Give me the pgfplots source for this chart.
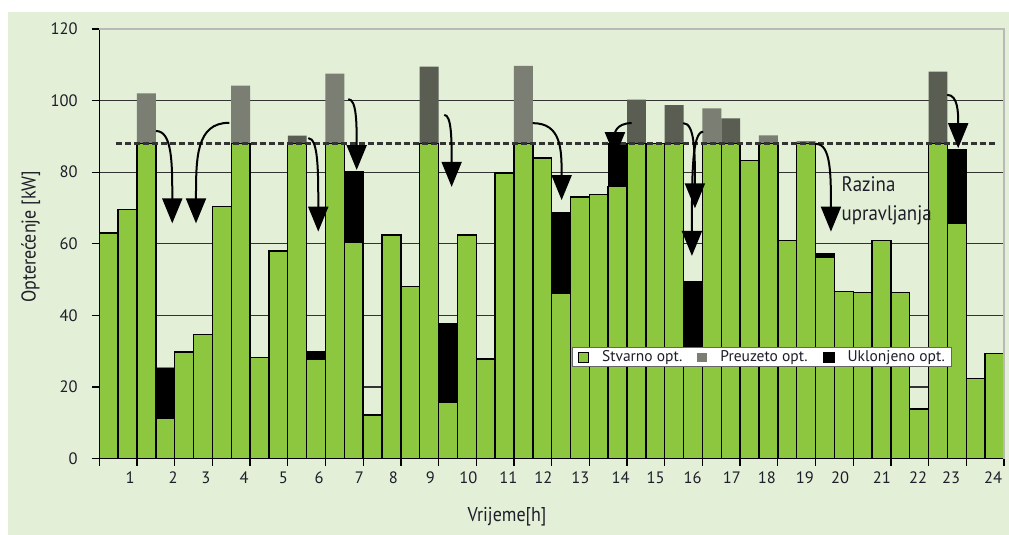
\documentclass[border=0pt]{standalone}
\usepackage{pgfplots}
\pgfplotsset{compat=1.18}
\usepackage{fontspec}
\setmainfont{PT Sans}
\newfontfamily\condfont[FakeStretch=0.9]{PT Sans}
\usetikzlibrary{arrows.meta}

\definecolor{bgc}{HTML}{E3EFD7}
\definecolor{barg}{HTML}{8DC63F}
\definecolor{greyL}{HTML}{7A7E73}
\definecolor{greyD}{HTML}{5A5D52}
\definecolor{txt}{HTML}{1E1E2A}

\begin{document}
\begin{tikzpicture}
\path[use as bounding box] (0,0) rectangle (1009bp,535bp);
\fill[bgc] (8bp,0) rectangle (1009bp,523bp);
\begin{axis}[
  at={(99.3bp,76.5bp)}, anchor=south west,
  scale only axis, width=904.7bp, height=429.5bp,
  xmin=0, xmax=24, ymin=0, ymax=120,
  clip=false,
  axis x line*=bottom, axis y line*=left,
  axis line style={black, line width=1.4bp},
  tick align=outside, major tick length=7bp,
  tick style={black, line width=1.3bp},
  xtick={0,1,...,24}, xticklabels={},
  extra x ticks={0.815,1.96,2.83,3.84,4.88,5.83,6.90,7.80,8.78,9.79,10.85,11.78,12.76,13.83,14.76,15.74,16.78,17.71,18.72,19.65,20.76,21.72,22.60,23.71},
  extra x tick labels={1,2,3,4,5,6,7,8,9,10,11,12,13,14,15,16,17,18,19,20,21,22,23,24},
  extra x tick style={major tick length=0pt},
  ytick={0,20,...,120},
  ymajorgrids, grid style={black!80, line width=1.2bp},
  /pgf/number format/assume math mode=true,
  x tick label style={font=\fontsize{16.5bp}{18bp}\selectfont, text=txt, anchor=north, inner sep=0pt, yshift=-13bp},
  y tick label style={font=\fontsize{16.5bp}{18bp}\selectfont, text=txt, anchor=east, inner sep=0pt, xshift=-14.5bp},
  xlabel={Vrijeme[h]}, ylabel={Opterećenje [kW]},
  every axis x label/.style={at={(axis description cs:0.4507,-0.1362)}, anchor=center, text=txt, font=\condfont\fontsize{20bp}{22bp}\selectfont},
  every axis y label/.style={at={(axis description cs:-0.0758,0.516)}, rotate=90, anchor=center, text=txt, font=\condfont\fontsize{20bp}{22bp}\selectfont},
  legend columns=3,
  legend style={at={(0.522,0.260)}, anchor=north west, draw=black!60, line width=1bp, fill=white,
    inner xsep=6bp, inner ysep=2.5bp, font=\fontsize{15.5bp}{17bp}\selectfont, text=txt,
    nodes={inner sep=1bp},
    /tikz/every odd column/.append style={column sep=12bp},
    /tikz/every even column/.append style={column sep=14bp}},
]
% Preuzeto opt. (light grey)
\addplot[ybar, bar width=0.5, bar shift=0pt, fill=greyL, draw=none, forget plot]
  coordinates {(1.25,102) (3.75,104.2) (6.25,107.5) (11.25,109.7) (16.25,97.8) (17.75,90.3) (18.75,88.7)};
% Preuzeto opt. (dark grey)
\addplot[ybar, bar width=0.5, bar shift=0pt, fill=greyD, draw=none, forget plot]
  coordinates {(5.25,90.2) (8.75,109.5) (14.25,100.3) (15.25,98.7) (16.75,95.0) (22.25,108.1)};
% Uklonjeno opt.
\addplot[ybar, bar width=0.5, bar shift=0pt, fill=black, draw=black, line width=1.2bp, forget plot]
  coordinates {(5.75,30.0) (6.75,80.1) (9.25,37.6) (12.25,68.6) (13.75,88) (15.75,49.5) (19.25,57.3) (22.75,86.3)};
\addplot[ybar, bar width=0.5, bar shift=0pt, fill=black, draw=gray, line width=1.5bp, forget plot]
  coordinates {(1.75,25.4)};
% Stvarno opt.
\addplot[ybar, bar width=0.5, bar shift=0pt, fill=barg, draw=black, line width=1.4bp, forget plot]
  coordinates {(0.25,63) (0.75,69.5) (1.25,88) (1.75,11.2) (2.25,29.7) (2.75,34.7) (3.25,70.4) (3.75,88)
    (4.25,28.2) (4.75,58) (5.25,88) (5.75,27.6) (6.25,88) (6.75,60.5) (7.25,12.1) (7.75,62.5)
    (8.25,48.1) (8.75,88) (9.25,15.6) (9.75,62.5) (10.25,27.8) (10.75,79.8) (11.25,88) (11.75,84)
    (12.25,46.2) (12.75,73.1) (13.25,73.7) (13.75,76) (14.25,88) (14.75,88) (15.25,88) (15.75,30)
    (16.25,88) (16.75,88) (17.25,83.3) (17.75,88) (18.25,60.9) (18.75,88) (19.25,56.2) (19.75,46.7)
    (20.25,46.4) (20.75,60.9) (21.25,46.4) (21.75,13.8) (22.25,88) (22.75,65.7) (23.25,22.3) (23.75,29.4)};
% Razina upravljanja
\addplot[color=black!80, line width=3bp, dash pattern=on 6bp off 3bp, forget plot]
  coordinates {(0.44,88) (23.76,88)};

\draw[gray!55, line width=1.5bp] (rel axis cs:0,1) -- (rel axis cs:1,1) -- (rel axis cs:1,0);

\begin{scope}[line width=2bp, -{Triangle[width=20bp,length=25bp]}]
  \draw (axis cs:1.504,91.5) .. controls (axis cs:1.936,91.5) and (axis cs:1.936,82.5) .. (axis cs:1.936,65.7);
  \draw (axis cs:3.448,93.8) .. controls (axis cs:2.565,93.8) and (axis cs:2.565,84.0) .. (axis cs:2.565,65.7);
  \draw (axis cs:5.544,89.5) .. controls (axis cs:5.809,89.5) and (axis cs:5.809,80.4) .. (axis cs:5.809,63.4);
  \draw (axis cs:6.605,100.4) .. controls (axis cs:6.828,100.4) and (axis cs:6.828,93.5) .. (axis cs:6.828,80.6);
  \draw (axis cs:9.151,96.0) .. controls (axis cs:9.347,96.0) and (axis cs:9.347,89.0) .. (axis cs:9.347,75.9);
  \draw (axis cs:11.496,93.7) .. controls (axis cs:12.265,93.7) and (axis cs:12.265,86.2) .. (axis cs:12.265,72.2);
  \draw (axis cs:14.122,93.7) .. controls (axis cs:13.679,93.7) and (axis cs:13.679,90.4) .. (axis cs:13.679,84.2);
  \draw (axis cs:15.491,93.7) .. controls (axis cs:15.801,93.7) and (axis cs:15.801,85.4) .. (axis cs:15.801,69.9);
  \draw (axis cs:16.021,91.3) .. controls (axis cs:15.721,91.3) and (axis cs:15.721,79.2) .. (axis cs:15.721,56.6);
  \draw (axis cs:19.011,87.9) .. controls (axis cs:19.409,87.9) and (axis cs:19.409,79.3) .. (axis cs:19.409,63.4);
  \draw (axis cs:22.493,101.6) .. controls (axis cs:22.785,101.6) and (axis cs:22.785,96.4) .. (axis cs:22.785,86.7);
\end{scope}

\node[anchor=base west, inner sep=0pt, text=txt, font=\condfont\fontsize{21bp}{24bp}\selectfont] at (axis cs:19.69,74.5) {Razina};
\node[anchor=base west, inner sep=0pt, text=txt, font=\condfont\fontsize{21bp}{24bp}\selectfont] at (axis cs:19.69,66.6) {upravljanja};

\addlegendimage{legend image code/.code={\filldraw[fill=barg, draw=black, line width=1bp] (0bp,-5bp) rectangle (10bp,5bp);}}
\addlegendentry{Stvarno opt.}
\addlegendimage{legend image code/.code={\fill[greyL] (0bp,-4bp) rectangle (9bp,4bp);}}
\addlegendentry{Preuzeto opt.}
\addlegendimage{legend image code/.code={\fill[black] (0bp,-5bp) rectangle (11bp,5bp);}}
\addlegendentry{Uklonjeno opt.}
\end{axis}
\end{tikzpicture}
\end{document}
